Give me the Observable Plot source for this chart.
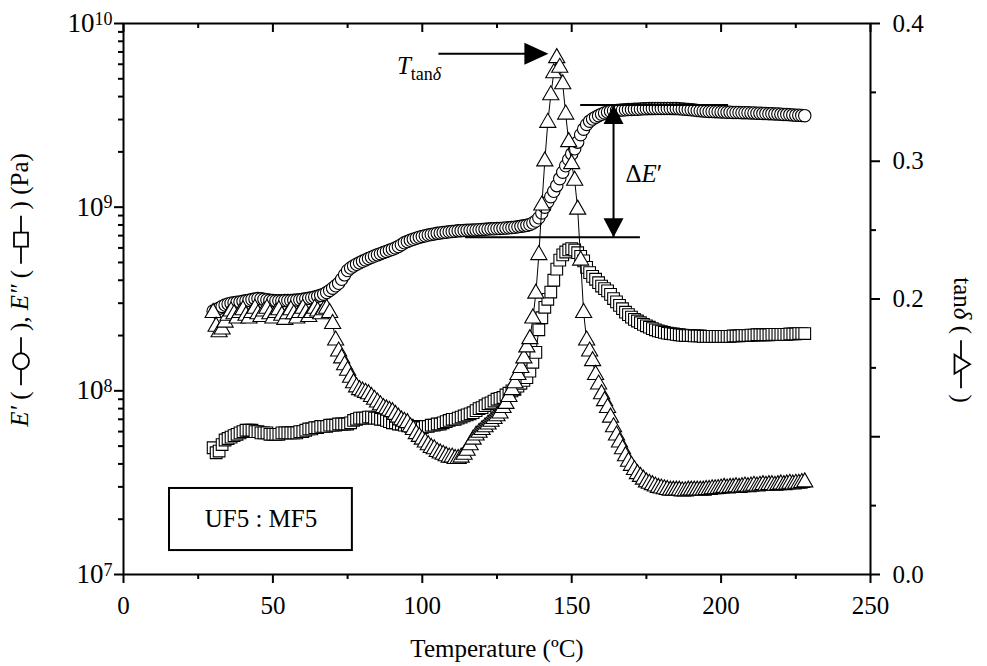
<!DOCTYPE html>
<html>
<head>
<meta charset="utf-8">
<script src="https://cdn.jsdelivr.net/npm/d3@7"></script>
<script src="https://cdn.jsdelivr.net/npm/@observablehq/plot@0.6"></script>
<style>
  html, body { margin: 0; padding: 0; background: #fff; }
  #chart { width: 987px; height: 666px; }
</style>
</head>
<body>
<div id="chart"></div>
<script>
// DMA scan of the UF5 : MF5 resin: storage modulus E′, loss modulus E″ and tanδ vs temperature.

// Temperature (°C)
const temperature = [
  30, 31, 32, 33, 34, 35, 36, 37, 38, 39,
  40, 41, 42, 43, 44, 45, 46, 47, 48, 49,
  50, 51, 52, 53, 54, 55, 56, 57, 58, 59,
  60, 61, 62, 63, 64, 65, 66, 67, 68, 69,
  70, 71, 72, 73, 74, 75, 76, 77, 78, 79,
  80, 81, 82, 83, 84, 85, 86, 87, 88, 89,
  90, 91, 92, 93, 94, 95, 96, 97, 98, 99,
  100, 101, 102, 103, 104, 105, 106, 107, 108, 109,
  110, 111, 112, 113, 114, 115, 116, 117, 118, 119,
  120, 121, 122, 123, 124, 125, 126, 127, 128, 129,
  130, 131, 132, 133, 134, 135, 136, 137, 138, 139,
  140, 141, 142, 143, 144, 145, 146, 147, 148, 149,
  150, 151, 152, 153, 154, 155, 156, 157, 158, 159,
  160, 161, 162, 163, 164, 165, 166, 167, 168, 169,
  170, 171, 172, 173, 174, 175, 176, 177, 178, 179,
  180, 181, 182, 183, 184, 185, 186, 187, 188, 189,
  190, 191, 192, 193, 194, 195, 196, 197, 198, 199,
  200, 201, 202, 203, 204, 205, 206, 207, 208, 209,
  210, 211, 212, 213, 214, 215, 216, 217, 218, 219,
  220, 221, 222, 223, 224, 225, 226, 227, 228
];

// Storage modulus E′ (×10^8 Pa)
const storageModulus = [
  2.72, 2.76, 2.82, 2.88, 2.93, 2.97, 3.00, 3.02, 3.04, 3.05,
  3.07, 3.09, 3.11, 3.14, 3.16, 3.18, 3.17, 3.15, 3.13, 3.11,
  3.10, 3.09, 3.09, 3.09, 3.10, 3.10, 3.10, 3.11, 3.12, 3.13,
  3.15, 3.17, 3.19, 3.21, 3.24, 3.27, 3.31, 3.36, 3.43, 3.52,
  3.62, 3.73, 3.85, 4.05, 4.28, 4.52, 4.66, 4.78, 4.89, 4.98,
  5.07, 5.16, 5.25, 5.34, 5.42, 5.50, 5.58, 5.66, 5.74, 5.82,
  5.90, 6.00, 6.10, 6.25, 6.40, 6.50, 6.60, 6.69, 6.78, 6.86,
  6.93, 6.99, 7.05, 7.10, 7.15, 7.20, 7.24, 7.28, 7.31, 7.34,
  7.37, 7.40, 7.43, 7.45, 7.47, 7.48, 7.49, 7.50, 7.52, 7.54,
  7.56, 7.58, 7.60, 7.62, 7.63, 7.65, 7.66, 7.68, 7.70, 7.72,
  7.75, 7.78, 7.82, 7.86, 7.91, 7.96, 8.05, 8.20, 8.40, 8.75,
  9.30, 10.0, 10.7, 11.4, 12.2, 13.1, 14.3, 15.5, 16.8, 18.2,
  19.5, 20.8, 22.6, 24.8, 26.6, 28.2, 29.4, 30.2, 30.9, 31.5,
  32.1, 32.6, 33.0, 33.3, 33.5, 33.6, 33.7, 33.8, 33.9, 34.0,
  34.0, 34.1, 34.1, 34.2, 34.3, 34.3, 34.4, 34.4, 34.5, 34.5,
  34.5, 34.5, 34.5, 34.5, 34.4, 34.4, 34.3, 34.2, 34.1, 34.0,
  33.9, 33.8, 33.6, 33.5, 33.4, 33.3, 33.2, 33.2, 33.1, 33.1,
  33.0, 33.0, 32.9, 32.9, 32.8, 32.8, 32.8, 32.7, 32.7, 32.7,
  32.6, 32.6, 32.5, 32.5, 32.4, 32.4, 32.3, 32.3, 32.2, 32.2,
  32.1, 32.0, 32.0, 31.9, 31.8, 31.7, 31.7, 31.6, 31.5
];

// Loss modulus E″ (×10^8 Pa)
const lossModulus = [
  0.49, 0.46, 0.47, 0.51, 0.54, 0.55, 0.56, 0.57, 0.58, 0.59,
  0.60, 0.61, 0.61, 0.61, 0.60, 0.60, 0.59, 0.59, 0.59, 0.58,
  0.58, 0.58, 0.58, 0.59, 0.59, 0.59, 0.59, 0.59, 0.59, 0.60,
  0.60, 0.61, 0.62, 0.62, 0.63, 0.63, 0.64, 0.64, 0.64, 0.65,
  0.65, 0.65, 0.66, 0.66, 0.66, 0.66, 0.67, 0.69, 0.70, 0.71,
  0.71, 0.71, 0.72, 0.72, 0.71, 0.71, 0.70, 0.70, 0.69, 0.68,
  0.67, 0.67, 0.66, 0.66, 0.65, 0.65, 0.64, 0.64, 0.63, 0.63,
  0.63, 0.64, 0.64, 0.65, 0.65, 0.66, 0.66, 0.67, 0.68, 0.69,
  0.70, 0.70, 0.71, 0.72, 0.73, 0.74, 0.75, 0.76, 0.78, 0.80,
  0.81, 0.83, 0.85, 0.86, 0.88, 0.90, 0.91, 0.92, 0.95, 0.97,
  1.00, 1.02, 1.06, 1.10, 1.14, 1.18, 1.28, 1.43, 1.62, 2.15,
  2.50, 2.85, 3.15, 3.45, 4.00, 4.60, 5.15, 5.50, 5.70, 5.85,
  5.95, 5.85, 5.65, 5.40, 5.10, 4.70, 4.40, 4.20, 4.05, 3.88,
  3.72, 3.60, 3.50, 3.35, 3.18, 3.05, 2.92, 2.80, 2.68, 2.60,
  2.52, 2.45, 2.40, 2.35, 2.30, 2.26, 2.22, 2.18, 2.15, 2.12,
  2.10, 2.08, 2.06, 2.05, 2.04, 2.03, 2.02, 2.01, 2.00, 2.00,
  2.00, 1.99, 1.99, 1.99, 1.98, 1.98, 1.98, 1.98, 1.98, 1.98,
  1.98, 1.98, 1.98, 1.98, 1.99, 1.99, 1.99, 2.00, 2.00, 2.00,
  2.01, 2.01, 2.02, 2.02, 2.02, 2.02, 2.02, 2.03, 2.03, 2.03,
  2.03, 2.03, 2.03, 2.04, 2.04, 2.04, 2.05, 2.05, 2.05
];

// Loss factor tanδ
const tanDelta = [
  0.190, 0.180, 0.176, 0.178, 0.183, 0.188, 0.191, 0.189, 0.186, 0.190,
  0.192, 0.188, 0.186, 0.190, 0.193, 0.189, 0.187, 0.191, 0.193, 0.189,
  0.186, 0.190, 0.192, 0.188, 0.185, 0.189, 0.192, 0.189, 0.186, 0.190,
  0.193, 0.190, 0.187, 0.190, 0.193, 0.191, 0.189, 0.192, 0.193, 0.190,
  0.182, 0.170, 0.162, 0.157, 0.152, 0.148, 0.143, 0.139, 0.136, 0.134,
  0.133, 0.132, 0.131, 0.129, 0.127, 0.125, 0.123, 0.121, 0.120, 0.119,
  0.118, 0.116, 0.114, 0.112, 0.111, 0.110, 0.107, 0.105, 0.102, 0.100,
  0.098, 0.096, 0.094, 0.092, 0.091, 0.089, 0.088, 0.087, 0.086, 0.085,
  0.085, 0.084, 0.084, 0.085, 0.087, 0.090, 0.094, 0.098, 0.101, 0.103,
  0.105, 0.107, 0.109, 0.111, 0.113, 0.115, 0.117, 0.121, 0.124, 0.129,
  0.134, 0.139, 0.145, 0.150, 0.157, 0.165, 0.171, 0.186, 0.204, 0.232,
  0.268, 0.300, 0.328, 0.348, 0.364, 0.375, 0.368, 0.356, 0.334, 0.314,
  0.298, 0.286, 0.265, 0.228, 0.190, 0.170, 0.162, 0.155, 0.145, 0.138,
  0.131, 0.126, 0.121, 0.114, 0.107, 0.101, 0.096, 0.091, 0.086, 0.082,
  0.079, 0.076, 0.073, 0.071, 0.069, 0.067, 0.066, 0.065, 0.064, 0.063,
  0.0625, 0.062, 0.0615, 0.061, 0.061, 0.061, 0.061, 0.0605, 0.0605, 0.061,
  0.061, 0.061, 0.061, 0.061, 0.061, 0.0615, 0.0615, 0.062, 0.062, 0.0622,
  0.0625, 0.063, 0.0625, 0.063, 0.063, 0.0635, 0.063, 0.0635, 0.064, 0.0635,
  0.064, 0.0645, 0.064, 0.0645, 0.065, 0.0645, 0.065, 0.065, 0.0645, 0.065,
  0.0655, 0.065, 0.0655, 0.066, 0.0655, 0.066, 0.066, 0.0665, 0.067
];

// Axis ticks
const temperatureTicks = [0, 50, 100, 150, 200, 250];
const temperatureMinorTicks = [25, 75, 125, 175, 225];
const modulusDecades = [1e7, 1e8, 1e9, 1e10];
const tanTicks = [0, 0.1, 0.2, 0.3, 0.4];
const tanMinorTicks = [0.05, 0.15, 0.25, 0.35];

// Annotations
const deltaLevels = [            // E′ rubbery and glassy reference levels (Pa)
  {E: 3.6e9, from: 153, to: 202.5},
  {E: 6.85e8, from: 114.5, to: 173}
];
const deltaArrow = {T: 164, labelT: 168, labelE: 1.52e9, label: "ΔE′"};
const peakPointer = {from: 105.4, to: 142.2, tan: 0.378, labelT: 91.5, labelTan: 0.3695, label: "Ttanδ"};
const sampleBox = {x1: 15.4, x2: 76.6, y1: 1.35e7, y2: 2.94e7, labelE: 2.0e7, label: "UF5 : MF5"};
const xTitle = "Temperature (ºC)";

// ---------------------------------------------------------------------------
const SERIF = "'Liberation Serif', 'Times New Roman', serif";
const NB = "\u00a0";

// tanδ shares the log y scale: 0 … 0.4 is laid over 10^7 … 10^10
const tanMax = 0.4, logMin = 7, logMax = 10;
const tanToE = t => 10 ** (logMin + (logMax - logMin) * t / tanMax);
const eToTan = e => (Math.log10(e) - logMin) / (logMax - logMin) * tanMax;

const rows = temperature.map((T, i) => ({
  T,
  storage: storageModulus[i] * 1e8,
  loss: lossModulus[i] * 1e8,
  tanY: tanToE(tanDelta[i])
}));

const modulusMinorTicks = [];
for (const d of [1e7, 1e8, 1e9]) for (let k = 2; k < 10; k++) modulusMinorTicks.push(k * d);

// filled arrow heads, tip at the origin
const headRight = {draw(c) { c.moveTo(0, 0); c.lineTo(-24, -11); c.lineTo(-24, 11); c.closePath(); }};
const headUp = {draw(c) { c.moveTo(0, 0); c.lineTo(-10, 19); c.lineTo(10, 19); c.closePath(); }};
const headDown = {draw(c) { c.moveTo(0, 0); c.lineTo(-10, -19); c.lineTo(10, -19); c.closePath(); }};

const lowLevel = deltaLevels[1].E, highLevel = deltaLevels[0].E;
const arrowShafts = [
  {x1: peakPointer.from, x2: peakPointer.to - 6, y1: tanToE(peakPointer.tan), y2: tanToE(peakPointer.tan)},
  {x1: deltaArrow.T, x2: deltaArrow.T, y1: lowLevel, y2: highLevel}
];

const W = 987, H = 666, M = {left: 123, right: 117, top: 23, bottom: 92};
const frameHeight = H - M.top - M.bottom;

const noLabel = () => "";
const tickStyle = {strokeWidth: 2, fontSize: 25, label: null};

const chart = Plot.plot({
  width: W,
  height: H,
  marginLeft: M.left,
  marginRight: M.right,
  marginTop: M.top,
  marginBottom: M.bottom,
  x: {domain: [0, 250]},
  y: {type: "log", domain: [1e7, 1e10]},
  style: {fontFamily: SERIF, fontSize: "25px", color: "black", background: "white"},
  marks: [
    // bottom axis
    Plot.axisX({...tickStyle, ticks: temperatureTicks, tickSize: 9, tickPadding: 13, tickFormat: d => String(d)}),
    Plot.axisX({...tickStyle, ticks: temperatureMinorTicks, tickSize: 5, tickFormat: noLabel}),
    // top edge, ticks pointing inward
    Plot.ruleX(temperatureTicks, {x: d => d, insetBottom: frameHeight - 9, stroke: "black", strokeWidth: 2}),
    Plot.ruleX(temperatureMinorTicks, {x: d => d, insetBottom: frameHeight - 5, stroke: "black", strokeWidth: 2}),
    // left modulus axis
    Plot.axisY({...tickStyle, ticks: modulusDecades, tickSize: 9, tickPadding: 2, fontSize: 27,
      tickFormat: d => `10^${Math.round(Math.log10(d))}`}),
    Plot.axisY({...tickStyle, ticks: modulusMinorTicks, tickSize: 5, tickFormat: noLabel}),
    // right tanδ axis
    Plot.axisY({...tickStyle, anchor: "right", ticks: tanTicks.map(tanToE), tickSize: 9, tickPadding: 13,
      tickFormat: d => eToTan(d).toFixed(1)}),
    Plot.axisY({...tickStyle, anchor: "right", ticks: tanMinorTicks.map(tanToE), tickSize: 5, tickFormat: noLabel}),
    Plot.frame({stroke: "black", strokeWidth: 2}),

    // E′
    Plot.line(rows, {x: "T", y: "storage", stroke: "black", strokeWidth: 1}),
    Plot.dot(rows, {x: "T", y: "storage", symbol: "circle", r: 6.2, fill: "white", stroke: "black", strokeWidth: 1.1}),
    // E″
    Plot.line(rows, {x: "T", y: "loss", stroke: "black", strokeWidth: 1}),
    Plot.dot(rows, {x: "T", y: "loss", symbol: "square", r: 6.6, fill: "white", stroke: "black", strokeWidth: 1.1}),
    // tanδ
    Plot.line(rows, {x: "T", y: "tanY", stroke: "black", strokeWidth: 1}),
    Plot.dot(rows, {x: "T", y: "tanY", symbol: "triangle", r: 6, fill: "white", stroke: "black", strokeWidth: 1.1}),

    // ΔE′ levels and arrows
    Plot.ruleY(deltaLevels, {y: "E", x1: "from", x2: "to", stroke: "black", strokeWidth: 2}),
    Plot.link(arrowShafts, {x1: "x1", x2: "x2", y1: "y1", y2: "y2", stroke: "black", strokeWidth: 2}),
    Plot.dot([peakPointer], {x: "to", y: d => tanToE(d.tan), symbol: headRight, r: 5, fill: "black", stroke: null}),
    Plot.dot([deltaArrow], {x: "T", y: () => highLevel, symbol: headUp, r: 5, fill: "black", stroke: null}),
    Plot.dot([deltaArrow], {x: "T", y: () => lowLevel, symbol: headDown, r: 5, fill: "black", stroke: null}),
    Plot.text([deltaArrow], {x: "labelT", y: "labelE", text: "label", textAnchor: "start", lineAnchor: "middle", fontSize: 25}),
    Plot.text([peakPointer], {x: "labelT", y: d => tanToE(d.labelTan), text: "label", textAnchor: "start", lineAnchor: "middle", fontSize: 25}),

    // sample label box
    Plot.rect([sampleBox], {x1: "x1", x2: "x2", y1: "y1", y2: "y2", fill: "white", stroke: "black", strokeWidth: 2}),
    Plot.text([sampleBox], {x: d => (d.x1 + d.x2) / 2, y: "labelE", text: "label", lineAnchor: "middle", fontSize: 25}),

    // x title
    Plot.text([xTitle], {frameAnchor: "bottom", lineAnchor: "middle", dy: 74, fontSize: 25})
  ]
});

document.getElementById("chart").appendChild(chart);
const svg = d3.select(chart.tagName.toLowerCase() === "svg" ? chart : chart.querySelector("svg"));

// superscript decades on the modulus axis
svg.selectAll("text").each(function () {
  const m = /^10\^(\d+)$/.exec(this.textContent);
  if (!m) return;
  const el = d3.select(this);
  el.text("10");
  el.append("tspan").attr("dy", "-0.42em").attr("font-size", "18px").text(m[1]);
});

// mixed italic / subscript annotation text
function enrich(plain, parts) {
  svg.selectAll("text").filter(function () { return this.textContent === plain; }).each(function () {
    const el = d3.select(this);
    el.text(null);
    let shift = 0;
    for (const p of parts) {
      const ts = el.append("tspan").text(p.t);
      if (p.italic) ts.attr("font-style", "italic");
      if (p.size) ts.attr("font-size", p.size);
      const s = p.shift || 0;
      if (s !== shift) { ts.attr("dy", s - shift); shift = s; }
    }
  });
}
enrich(peakPointer.label, [
  {t: "T", italic: true},
  {t: "tan", size: "18px", shift: 6},
  {t: "δ", size: "18px", italic: true, shift: 6}
]);
enrich(deltaArrow.label, [{t: "Δ"}, {t: "E", italic: true}, {t: "′"}]);

// rotated axis titles with line + symbol keys
function axisTitle(cx, cy, angle, parts) {
  const g = svg.append("g").attr("transform", `translate(${cx},${cy}) rotate(${angle})`);
  const inner = g.append("g").attr("text-anchor", "start");
  let x = 0;
  for (const p of parts) {
    if (p.text != null) {
      const t = inner.append("text")
        .attr("x", x).attr("y", 7)
        .attr("text-anchor", "start")
        .attr("font-family", SERIF).attr("font-size", 25).attr("fill", "black")
        .attr("font-style", p.italic ? "italic" : null)
        .text(p.text.replace(/ /g, NB));
      x += t.node().getComputedTextLength();
    } else {
      const len = 48, mid = x + len / 2;
      inner.append("line").attr("x1", x).attr("x2", x + len).attr("y1", 0).attr("y2", 0)
        .attr("stroke", "black").attr("stroke-width", 1.8);
      const sym = {circle: "M8,0A8,8 0 1 1 -8,0A8,8 0 1 1 8,0Z",
                   square: "M-7,-7H7V7H-7Z",
                   triangle: "M0,-9L9.5,6.5L-9.5,6.5Z"}[p.symbol];
      inner.append("path").attr("d", sym).attr("transform", `translate(${mid},0)`)
        .attr("fill", "white").attr("stroke", "black").attr("stroke-width", 1.8);
      x += len;
    }
  }
  inner.attr("transform", `translate(${-x / 2},0)`);
}

axisTitle(21, 290, -90, [
  {text: "E′", italic: true}, {text: " ( "}, {symbol: "circle"}, {text: " ), "},
  {text: "E″", italic: true}, {text: " ( "}, {symbol: "square"}, {text: " ) (Pa)"}
]);
axisTitle(961, 340, 90, [
  {text: "tan"}, {text: "δ", italic: true}, {text: " ( "}, {symbol: "triangle"}, {text: " )"}
]);
</script>
</body>
</html>
